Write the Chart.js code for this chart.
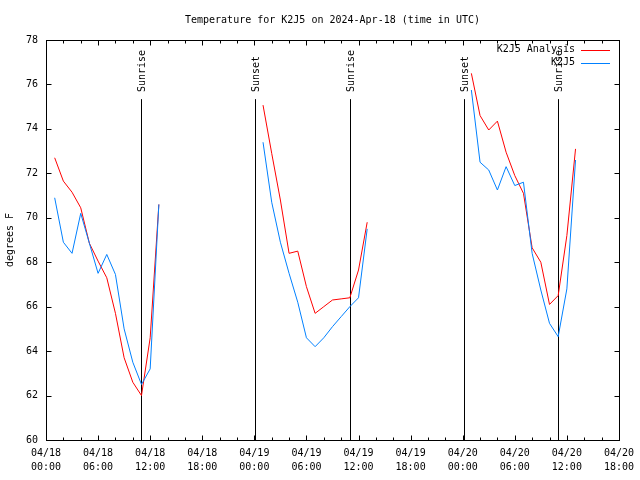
<!DOCTYPE html>
<html><head><meta charset="utf-8">
<script src="https://cdn.jsdelivr.net/npm/chart.js@4.4.1/dist/chart.umd.min.js"></script>
<style>html,body{margin:0;padding:0;background:#fff}</style>
</head><body>
<canvas id="c" width="640" height="480"></canvas>
<script>
const FONT = "'DejaVu Sans Mono', monospace";
const chartTitle = 'Temperature for K2J5 on 2024-Apr-18 (time in UTC)';
const yAxisTitle = 'degrees F';
const seriesNames = ['K2J5 Analysis', 'K2J5'];
const seriesColors = ['#ff0000', '#0080ff'];

// hours since 04/18 00:00 UTC
const day1Hours = [1,2,3,4,5,6,7,8,9,10,11,12,13];
const day2Hours = [25,26,27,28,29,30,31,32,33,34,35,36,37];
const day3Hours = [49,50,51,52,53,54,55,56,57,58,59,60,61];

const analysisDay1 = [72.7,71.65,71.15,70.45,68.85,68.05,67.3,65.7,63.7,62.6,62.0,64.6,70.6];
const analysisDay2 = [75.07,72.9,70.8,68.4,68.5,66.9,65.7,66.0,66.3,66.35,66.4,67.65,69.8];
const analysisDay3 = [76.5,74.6,73.95,74.35,72.95,71.9,71.1,68.65,68.0,66.1,66.5,69.2,73.1];

const obsDay1 = [70.9,68.9,68.4,70.2,68.85,67.5,68.35,67.45,65.0,63.5,62.5,63.2,70.6];
const obsDay2 = [73.4,70.7,68.9,67.5,66.2,64.6,64.2,64.6,65.1,65.55,66.0,66.4,69.5];
const obsDay3 = [75.75,72.5,72.15,71.25,72.3,71.45,71.6,68.4,66.75,65.25,64.65,66.8,72.6];

const sunEventHours = [10.95, 24.05, 34.98, 48.1, 59.0];
const sunEventLabels = ['Sunrise','Sunset','Sunrise','Sunset','Sunrise'];
const sunLineTop = 75.34;

const xMin = 0, xMax = 66, xMajorStep = 6, xMinorStep = 2;
const yMin = 60, yMax = 78, yStep = 2;

function buildSeries(hourSets, valueSets) {
  const pts = [];
  hourSets.forEach((hs, i) => {
    if (i > 0) pts.push({x: hs[0] - 6, y: null});
    hs.forEach((h, j) => pts.push({x: h, y: valueSets[i][j]}));
  });
  return pts;
}
const hourSets = [day1Hours, day2Hours, day3Hours];

function xLabel(h) {
  const day = 18 + Math.floor(h / 24);
  const hh = h % 24;
  return ['04/' + day, (hh < 10 ? '0' : '') + hh + ':00'];
}

const overlay = {
  id: 'overlay',
  beforeDatasetsDraw(chart) {
    const {ctx, scales: {x, y}} = chart;
    ctx.save();
    ctx.strokeStyle = '#000';
    ctx.lineWidth = 1;
    ctx.fillStyle = '#000';
    ctx.font = '10px ' + FONT;
    sunEventHours.forEach((h, i) => {
      const px = Math.round(x.getPixelForValue(h)) + 0.5;
      const top = y.getPixelForValue(sunLineTop);
      ctx.beginPath();
      ctx.moveTo(px, top);
      ctx.lineTo(px, y.getPixelForValue(yMin));
      ctx.stroke();
      ctx.save();
      ctx.translate(px + 1, top - 7);
      ctx.rotate(-Math.PI / 2);
      ctx.textAlign = 'left';
      ctx.textBaseline = 'middle';
      ctx.fillText(sunEventLabels[i], 0, 0);
      ctx.restore();
    });
    ctx.restore();
  },
  afterDraw(chart) {
    const {ctx, chartArea: a, scales: {x, y}} = chart;
    ctx.save();
    ctx.strokeStyle = '#000';
    ctx.lineWidth = 1;
    const L = Math.round(a.left) + 0.5, R = Math.round(a.right) + 0.5;
    const T = Math.round(a.top) + 0.5, B = Math.round(a.bottom) + 0.5;
    ctx.strokeRect(L, T, R - L, B - T);
    ctx.beginPath();
    for (let h = xMin; h <= xMax; h += xMinorStep) {
      const px = Math.round(x.getPixelForValue(h)) + 0.5;
      const len = (h % xMajorStep === 0) ? 5 : 3;
      ctx.moveTo(px, B); ctx.lineTo(px, B - len);
      ctx.moveTo(px, T); ctx.lineTo(px, T + len);
    }
    for (let v = yMin; v <= yMax; v += yStep) {
      const py = Math.round(y.getPixelForValue(v)) + 0.5;
      ctx.moveTo(L, py); ctx.lineTo(L + 5, py);
      ctx.moveTo(R, py); ctx.lineTo(R - 5, py);
    }
    ctx.stroke();

    ctx.fillStyle = '#000';
    ctx.font = '10px ' + FONT;
    ctx.textAlign = 'center';
    ctx.textBaseline = 'middle';
    ctx.fillText(chartTitle, (a.left + a.right) / 2, 20);

    ctx.save();
    ctx.translate(10, (a.top + a.bottom) / 2);
    ctx.rotate(-Math.PI / 2);
    ctx.fillText(yAxisTitle, 0, 0);
    ctx.restore();

    // legend
    const legendRows = [49.5, 62.5];
    ctx.textAlign = 'right';
    seriesNames.forEach((name, i) => {
      ctx.fillStyle = '#000';
      ctx.fillText(name, 575, legendRows[i]);
      ctx.strokeStyle = seriesColors[i];
      ctx.beginPath();
      ctx.moveTo(581, Math.round(legendRows[i]) + 0.5);
      ctx.lineTo(610, Math.round(legendRows[i]) + 0.5);
      ctx.stroke();
    });
    ctx.restore();
  }
};

new Chart(document.getElementById('c'), {
  type: 'line',
  data: {
    datasets: [
      { label: seriesNames[0], data: buildSeries(hourSets, [analysisDay1, analysisDay2, analysisDay3]),
        borderColor: seriesColors[0], borderWidth: 1, pointRadius: 0, tension: 0, spanGaps: false, order: 1 },
      { label: seriesNames[1], data: buildSeries(hourSets, [obsDay1, obsDay2, obsDay3]),
        borderColor: seriesColors[1], borderWidth: 1, pointRadius: 0, tension: 0, spanGaps: false, order: 0 }
    ]
  },
  options: {
    responsive: false,
    animation: false,
    devicePixelRatio: 1,
    layout: { padding: { top: 40, right: 20, left: 0, bottom: 0 } },
    plugins: { legend: { display: false }, title: { display: false }, tooltip: { enabled: false } },
    scales: {
      x: {
        type: 'linear', min: xMin, max: xMax,
        grid: { display: false, drawTicks: false },
        border: { display: false },
        afterBuildTicks(scale) {
          const t = [];
          for (let h = xMin; h <= xMax; h += xMajorStep) t.push({ value: h });
          scale.ticks = t;
        },
        afterFit(scale) { scale.height = 40; },
        ticks: {
          autoSkip: false, maxRotation: 0, minRotation: 0, padding: 6,
          color: '#000', font: { family: FONT, size: 10, lineHeight: 1.4 },
          callback: (v) => xLabel(v)
        }
      },
      y: {
        type: 'linear', min: yMin, max: yMax,
        grid: { display: false, drawTicks: false },
        border: { display: false },
        afterFit(scale) { scale.width = 46; },
        ticks: { stepSize: yStep, padding: 8, color: '#000', font: { family: FONT, size: 10 } }
      }
    }
  },
  plugins: [overlay]
});
</script>
</body></html>
